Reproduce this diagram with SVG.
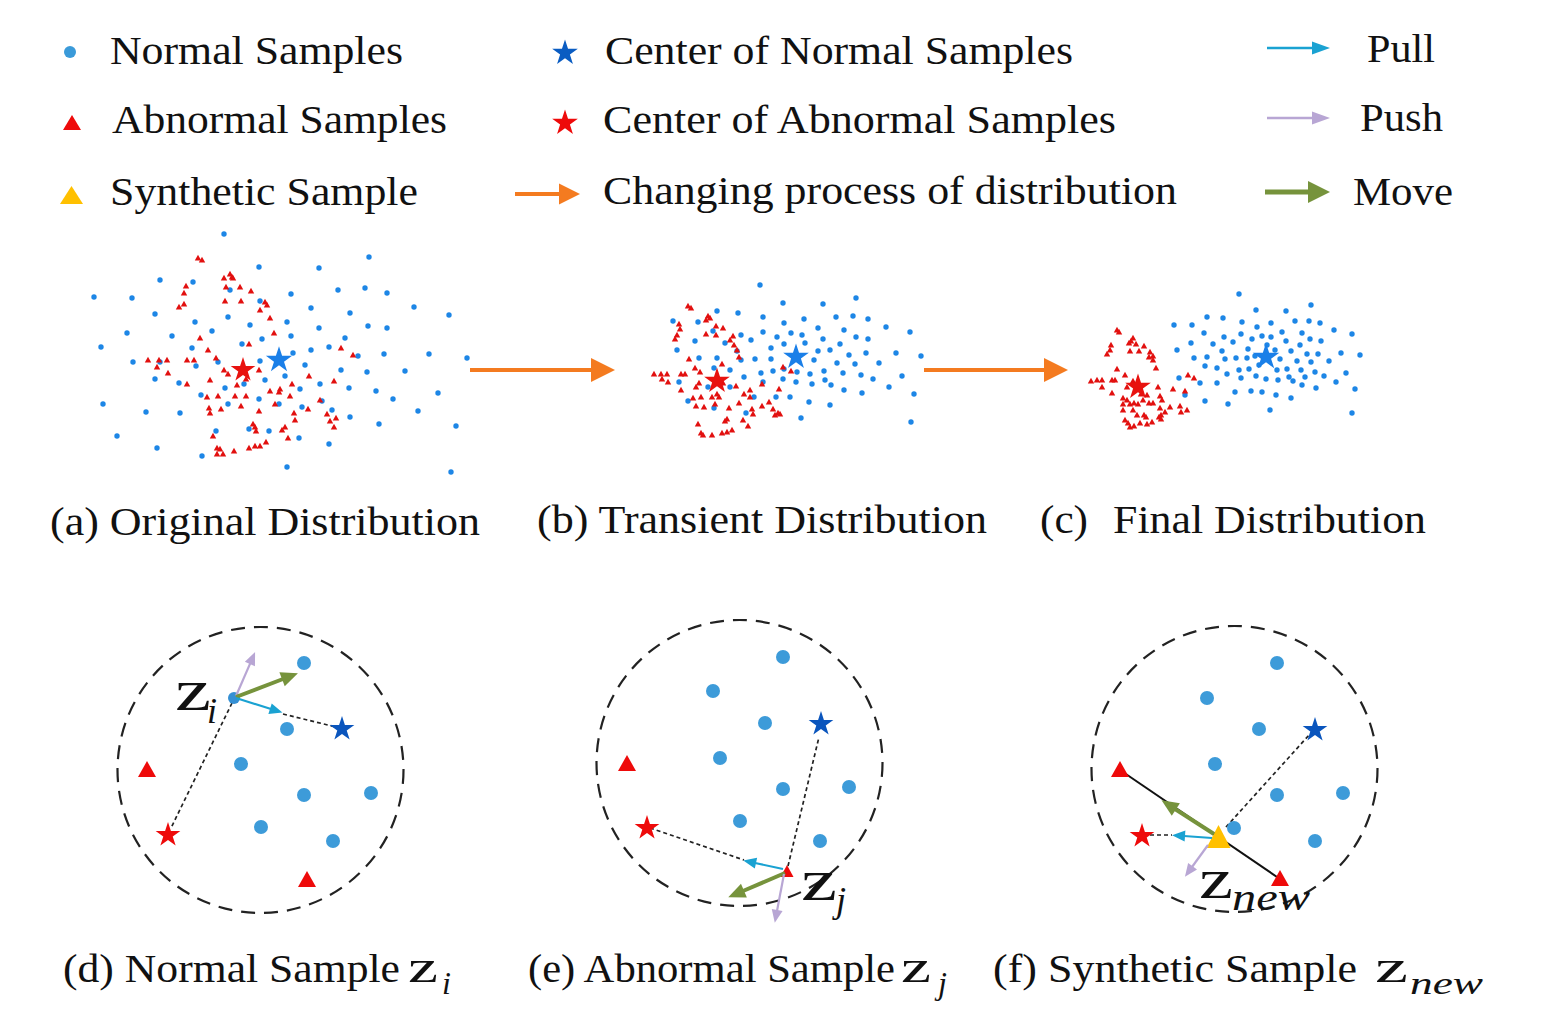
<svg xmlns="http://www.w3.org/2000/svg" xmlns:xlink="http://www.w3.org/1999/xlink" width="1548" height="1017" viewBox="0 0 1548 1017">
<style>
.t{font-family:"Liberation Serif","Times New Roman",serif;font-size:40px;fill:#111}
.z{font-family:"Liberation Serif","Times New Roman",serif;fill:#111}
.m{font-family:"Liberation Serif","Times New Roman",serif;font-style:italic;fill:#111}
.sb{fill:#1d86e6}
.cd{fill:#3d9bd9}
.dash{fill:none;stroke:#222;stroke-width:1.7;stroke-dasharray:4 3}
.ring{fill:none;stroke:#222;stroke-width:2.2;stroke-dasharray:14 9}
</style>
<defs>
<path id="star" d="M0,-10 L2.245,-3.09 L9.51,-3.09 L3.63,1.18 L5.88,8.09 L0,3.82 L-5.88,8.09 L-3.63,1.18 L-9.51,-3.09 L-2.245,-3.09 Z"/>
<path id="rt" d="M0,-3.2 L3.2,2.4 L-3.2,2.4 Z" fill="#e2100f"/>
<path id="bt" d="M0,-9 L9,7 L-9,7 Z" fill="#ee0a0a"/>
<marker id="aO" markerUnits="userSpaceOnUse" orient="auto" overflow="visible" refX="1" refY="0" markerWidth="30" markerHeight="30"><path d="M0,-12 L24,0 L0,12 Z" fill="#f47b20"/></marker>
<marker id="ao" markerUnits="userSpaceOnUse" orient="auto" overflow="visible" refX="1" refY="0" markerWidth="30" markerHeight="30"><path d="M0,-10.5 L21,0 L0,10.5 Z" fill="#f47b20"/></marker>
<marker id="aC" markerUnits="userSpaceOnUse" orient="auto" overflow="visible" refX="1" refY="0" markerWidth="30" markerHeight="30"><path d="M0,-6.5 L18,0 L0,6.5 Z" fill="#1aa2d2"/></marker>
<marker id="ac" markerUnits="userSpaceOnUse" orient="auto" overflow="visible" refX="1" refY="0" markerWidth="30" markerHeight="30"><path d="M0,-5.5 L13,0 L0,5.5 Z" fill="#1aa2d2"/></marker>
<marker id="aL" markerUnits="userSpaceOnUse" orient="auto" overflow="visible" refX="1" refY="0" markerWidth="30" markerHeight="30"><path d="M0,-6.5 L18,0 L0,6.5 Z" fill="#b8a6d4"/></marker>
<marker id="al" markerUnits="userSpaceOnUse" orient="auto" overflow="visible" refX="1" refY="0" markerWidth="30" markerHeight="30"><path d="M0,-5.5 L13,0 L0,5.5 Z" fill="#b8a6d4"/></marker>
<marker id="aG" markerUnits="userSpaceOnUse" orient="auto" overflow="visible" refX="1" refY="0" markerWidth="30" markerHeight="30"><path d="M0,-11 L22,0 L0,11 Z" fill="#76933c"/></marker>
<marker id="ag" markerUnits="userSpaceOnUse" orient="auto" overflow="visible" refX="1" refY="0" markerWidth="30" markerHeight="30"><path d="M0,-7.5 L17,0 L0,7.5 Z" fill="#76933c"/></marker>
</defs>
<rect width="1548" height="1017" fill="#fff"/>

<!-- Legend -->
<g id="legend-normal"><circle cx="70" cy="52" r="6" fill="#3a9ad9"/><text class="t" x="110" y="64" textLength="293" lengthAdjust="spacingAndGlyphs">Normal Samples</text></g>
<g id="legend-abnormal"><path d="M72,115 L81,130 L63,130 Z" fill="#ee0a0a"/><text class="t" x="112" y="133" textLength="335" lengthAdjust="spacingAndGlyphs">Abnormal Samples</text></g>
<g id="legend-synthetic"><path d="M71.5,186 L83,204 L60,204 Z" fill="#ffc000"/><text class="t" x="110" y="205" textLength="308" lengthAdjust="spacingAndGlyphs">Synthetic Sample</text></g>
<g id="legend-center-normal"><use href="#star" transform="translate(565,53) scale(1.35)" fill="#0a5cc2"/><text class="t" x="605" y="64" textLength="468" lengthAdjust="spacingAndGlyphs">Center of Normal Samples</text></g>
<g id="legend-center-abnormal"><use href="#star" transform="translate(565,123) scale(1.35)" fill="#ee0a0a"/><text class="t" x="603" y="133" textLength="513" lengthAdjust="spacingAndGlyphs">Center of Abnormal Samples</text></g>
<g id="legend-changing"><text class="t" x="603" y="204" textLength="574" lengthAdjust="spacingAndGlyphs">Changing process of distribution</text></g>
<g id="legend-pull"><text class="t" x="1367" y="62" textLength="68" lengthAdjust="spacingAndGlyphs">Pull</text></g>
<g id="legend-push"><text class="t" x="1360" y="131" textLength="83" lengthAdjust="spacingAndGlyphs">Push</text></g>
<g id="legend-move"><text class="t" x="1353" y="205" textLength="100" lengthAdjust="spacingAndGlyphs">Move</text></g>

<!-- Panel (a) -->
<g id="panel-a">
<g class="sb">
<circle cx="224" cy="234" r="2.7"/><circle cx="369" cy="257" r="2.7"/><circle cx="259" cy="267" r="2.7"/><circle cx="319" cy="268" r="2.7"/><circle cx="160" cy="280" r="2.7"/><circle cx="94" cy="297" r="2.7"/><circle cx="132" cy="298" r="2.7"/><circle cx="193" cy="282" r="2.7"/><circle cx="230" cy="290" r="2.7"/><circle cx="291" cy="294" r="2.7"/><circle cx="338" cy="290" r="2.7"/><circle cx="365" cy="288" r="2.7"/><circle cx="387" cy="293" r="2.7"/><circle cx="414" cy="307" r="2.7"/><circle cx="449" cy="315" r="2.7"/><circle cx="260" cy="301" r="2.7"/><circle cx="155" cy="314" r="2.7"/><circle cx="195" cy="322" r="2.7"/><circle cx="228" cy="317" r="2.7"/><circle cx="250" cy="325" r="2.7"/><circle cx="287" cy="322" r="2.7"/><circle cx="311" cy="308" r="2.7"/><circle cx="350" cy="313" r="2.7"/><circle cx="368" cy="326" r="2.7"/><circle cx="387" cy="328" r="2.7"/><circle cx="319" cy="328" r="2.7"/><circle cx="127" cy="333" r="2.7"/><circle cx="172" cy="336" r="2.7"/><circle cx="212" cy="331" r="2.7"/><circle cx="262" cy="339" r="2.7"/><circle cx="291" cy="336" r="2.7"/><circle cx="345" cy="338" r="2.7"/><circle cx="101" cy="347" r="2.7"/><circle cx="192" cy="348" r="2.7"/><circle cx="242" cy="344" r="2.7"/><circle cx="293" cy="353" r="2.7"/><circle cx="311" cy="350" r="2.7"/><circle cx="329" cy="347" r="2.7"/><circle cx="358" cy="356" r="2.7"/><circle cx="384" cy="354" r="2.7"/><circle cx="429" cy="354" r="2.7"/><circle cx="467" cy="358" r="2.7"/><circle cx="133" cy="362" r="2.7"/><circle cx="160" cy="362" r="2.7"/><circle cx="196" cy="366" r="2.7"/><circle cx="218" cy="362" r="2.7"/><circle cx="260" cy="361" r="2.7"/><circle cx="305" cy="365" r="2.7"/><circle cx="341" cy="370" r="2.7"/><circle cx="367" cy="372" r="2.7"/><circle cx="405" cy="371" r="2.7"/><circle cx="155" cy="379" r="2.7"/><circle cx="179" cy="383" r="2.7"/><circle cx="225" cy="388" r="2.7"/><circle cx="244" cy="384" r="2.7"/><circle cx="265" cy="380" r="2.7"/><circle cx="285" cy="376" r="2.7"/><circle cx="300" cy="389" r="2.7"/><circle cx="320" cy="384" r="2.7"/><circle cx="349" cy="388" r="2.7"/><circle cx="376" cy="391" r="2.7"/><circle cx="393" cy="399" r="2.7"/><circle cx="438" cy="393" r="2.7"/><circle cx="103" cy="404" r="2.7"/><circle cx="201" cy="395" r="2.7"/><circle cx="228" cy="404" r="2.7"/><circle cx="259" cy="399" r="2.7"/><circle cx="279" cy="404" r="2.7"/><circle cx="302" cy="407" r="2.7"/><circle cx="322" cy="401" r="2.7"/><circle cx="332" cy="410" r="2.7"/><circle cx="350" cy="417" r="2.7"/><circle cx="418" cy="411" r="2.7"/><circle cx="146" cy="412" r="2.7"/><circle cx="180" cy="413" r="2.7"/><circle cx="379" cy="424" r="2.7"/><circle cx="456" cy="426" r="2.7"/><circle cx="117" cy="436" r="2.7"/><circle cx="216" cy="431" r="2.7"/><circle cx="249" cy="429" r="2.7"/><circle cx="269" cy="431" r="2.7"/><circle cx="299" cy="438" r="2.7"/><circle cx="329" cy="444" r="2.7"/><circle cx="157" cy="448" r="2.7"/><circle cx="202" cy="456" r="2.7"/><circle cx="287" cy="467" r="2.7"/><circle cx="451" cy="472" r="2.7"/>
</g>
<g>
<use href="#rt" x="198" y="258"/><use href="#rt" x="202" y="260"/><use href="#rt" x="230" y="274"/><use href="#rt" x="232" y="277"/><use href="#rt" x="233" y="278"/><use href="#rt" x="224" y="278"/><use href="#rt" x="186" y="286"/><use href="#rt" x="184" y="293"/><use href="#rt" x="240" y="287"/><use href="#rt" x="226" y="287"/><use href="#rt" x="251" y="291"/><use href="#rt" x="179" y="307"/><use href="#rt" x="184" y="304"/><use href="#rt" x="225" y="301"/><use href="#rt" x="241" y="301"/><use href="#rt" x="265" y="302"/><use href="#rt" x="267" y="305"/><use href="#rt" x="260" y="310"/><use href="#rt" x="270" y="318"/><use href="#rt" x="274" y="333"/><use href="#rt" x="200" y="338"/><use href="#rt" x="208" y="350"/><use href="#rt" x="216" y="358"/><use href="#rt" x="249" y="344"/><use href="#rt" x="148" y="360"/><use href="#rt" x="159" y="360"/><use href="#rt" x="167" y="360"/><use href="#rt" x="187" y="360"/><use href="#rt" x="194" y="360"/><use href="#rt" x="157" y="367"/><use href="#rt" x="168" y="373"/><use href="#rt" x="224" y="370"/><use href="#rt" x="228" y="374"/><use href="#rt" x="259" y="370"/><use href="#rt" x="210" y="380"/><use href="#rt" x="187" y="384"/><use href="#rt" x="237" y="385"/><use href="#rt" x="246" y="379"/><use href="#rt" x="270" y="391"/><use href="#rt" x="280" y="389"/><use href="#rt" x="292" y="384"/><use href="#rt" x="279" y="392"/><use href="#rt" x="309" y="376"/><use href="#rt" x="334" y="381"/><use href="#rt" x="341" y="348"/><use href="#rt" x="353" y="355"/><use href="#rt" x="207" y="397"/><use href="#rt" x="218" y="396"/><use href="#rt" x="235" y="396"/><use href="#rt" x="246" y="396"/><use href="#rt" x="290" y="396"/><use href="#rt" x="320" y="400"/><use href="#rt" x="209" y="408"/><use href="#rt" x="221" y="409"/><use href="#rt" x="241" y="406"/><use href="#rt" x="259" y="411"/><use href="#rt" x="275" y="404"/><use href="#rt" x="210" y="413"/><use href="#rt" x="294" y="413"/><use href="#rt" x="295" y="420"/><use href="#rt" x="308" y="409"/><use href="#rt" x="327" y="414"/><use href="#rt" x="336" y="418"/><use href="#rt" x="330" y="421"/><use href="#rt" x="334" y="427"/><use href="#rt" x="253" y="424"/><use href="#rt" x="255" y="427"/><use href="#rt" x="256" y="431"/><use href="#rt" x="282" y="430"/><use href="#rt" x="285" y="427"/><use href="#rt" x="288" y="438"/><use href="#rt" x="213" y="436"/><use href="#rt" x="217" y="448"/><use href="#rt" x="220" y="449"/><use href="#rt" x="217" y="454"/><use href="#rt" x="223" y="454"/><use href="#rt" x="234" y="451"/><use href="#rt" x="249" y="448"/><use href="#rt" x="255" y="446"/><use href="#rt" x="260" y="446"/><use href="#rt" x="266" y="442"/>
</g>
<use href="#star" transform="translate(243,370) scale(1.3)" fill="#e8120f"/>
<use href="#star" transform="translate(279,360) scale(1.38)" fill="#1a7fe8"/>
<text class="t" x="50" y="535" textLength="430" lengthAdjust="spacingAndGlyphs">(a) Original Distribution</text>
</g>

<!-- Panel (b) -->
<g id="panel-b">
<g class="sb">
<circle cx="760" cy="285" r="2.7"/><circle cx="783" cy="303" r="2.7"/><circle cx="823" cy="304" r="2.7"/><circle cx="856" cy="298" r="2.7"/><circle cx="673" cy="321" r="2.7"/><circle cx="698" cy="322" r="2.7"/><circle cx="717" cy="311" r="2.7"/><circle cx="738" cy="313" r="2.7"/><circle cx="763" cy="317" r="2.7"/><circle cx="784" cy="323" r="2.7"/><circle cx="804" cy="319" r="2.7"/><circle cx="836" cy="317" r="2.7"/><circle cx="853" cy="316" r="2.7"/><circle cx="868" cy="319" r="2.7"/><circle cx="886" cy="327" r="2.7"/><circle cx="910" cy="332" r="2.7"/><circle cx="844" cy="330" r="2.7"/><circle cx="818" cy="328" r="2.7"/><circle cx="791" cy="333" r="2.7"/><circle cx="802" cy="335" r="2.7"/><circle cx="777" cy="337" r="2.7"/><circle cx="763" cy="332" r="2.7"/><circle cx="751" cy="340" r="2.7"/><circle cx="741" cy="335" r="2.7"/><circle cx="713" cy="331" r="2.7"/><circle cx="695" cy="341" r="2.7"/><circle cx="725" cy="343" r="2.7"/><circle cx="677" cy="350" r="2.7"/><circle cx="737" cy="351" r="2.7"/><circle cx="771" cy="348" r="2.7"/><circle cx="784" cy="344" r="2.7"/><circle cx="805" cy="343" r="2.7"/><circle cx="823" cy="339" r="2.7"/><circle cx="840" cy="344" r="2.7"/><circle cx="856" cy="337" r="2.7"/><circle cx="868" cy="339" r="2.7"/><circle cx="830" cy="350" r="2.7"/><circle cx="818" cy="351" r="2.7"/><circle cx="849" cy="355" r="2.7"/><circle cx="866" cy="353" r="2.7"/><circle cx="896" cy="353" r="2.7"/><circle cx="921" cy="356" r="2.7"/><circle cx="699" cy="358" r="2.7"/><circle cx="717" cy="358" r="2.7"/><circle cx="741" cy="360" r="2.7"/><circle cx="755" cy="359" r="2.7"/><circle cx="771" cy="359" r="2.7"/><circle cx="814" cy="360" r="2.7"/><circle cx="837" cy="363" r="2.7"/><circle cx="855" cy="364" r="2.7"/><circle cx="879" cy="363" r="2.7"/><circle cx="714" cy="368" r="2.7"/><circle cx="730" cy="370" r="2.7"/><circle cx="761" cy="373" r="2.7"/><circle cx="773" cy="371" r="2.7"/><circle cx="784" cy="369" r="2.7"/><circle cx="797" cy="372" r="2.7"/><circle cx="810" cy="374" r="2.7"/><circle cx="824" cy="371" r="2.7"/><circle cx="843" cy="373" r="2.7"/><circle cx="861" cy="375" r="2.7"/><circle cx="873" cy="379" r="2.7"/><circle cx="902" cy="376" r="2.7"/><circle cx="679" cy="382" r="2.7"/><circle cx="744" cy="377" r="2.7"/><circle cx="763" cy="382" r="2.7"/><circle cx="783" cy="379" r="2.7"/><circle cx="796" cy="382" r="2.7"/><circle cx="812" cy="384" r="2.7"/><circle cx="825" cy="380" r="2.7"/><circle cx="831" cy="385" r="2.7"/><circle cx="844" cy="390" r="2.7"/><circle cx="862" cy="393" r="2.7"/><circle cx="889" cy="387" r="2.7"/><circle cx="914" cy="394" r="2.7"/><circle cx="708" cy="387" r="2.7"/><circle cx="730" cy="387" r="2.7"/><circle cx="754" cy="397" r="2.7"/><circle cx="776" cy="397" r="2.7"/><circle cx="790" cy="397" r="2.7"/><circle cx="809" cy="402" r="2.7"/><circle cx="830" cy="405" r="2.7"/><circle cx="688" cy="401" r="2.7"/><circle cx="714" cy="408" r="2.7"/><circle cx="746" cy="413" r="2.7"/><circle cx="801" cy="418" r="2.7"/><circle cx="911" cy="422" r="2.7"/>
</g>
<g>
<use href="#rt" x="688" y="306"/><use href="#rt" x="691" y="308"/><use href="#rt" x="708" y="316"/><use href="#rt" x="710" y="318"/><use href="#rt" x="706" y="320"/><use href="#rt" x="679" y="324"/><use href="#rt" x="680" y="329"/><use href="#rt" x="716" y="326"/><use href="#rt" x="723" y="328"/><use href="#rt" x="706" y="334"/><use href="#rt" x="716" y="335"/><use href="#rt" x="677" y="335"/><use href="#rt" x="675" y="339"/><use href="#rt" x="733" y="336"/><use href="#rt" x="730" y="340"/><use href="#rt" x="734" y="345"/><use href="#rt" x="737" y="350"/><use href="#rt" x="739" y="357"/><use href="#rt" x="689" y="359"/><use href="#rt" x="695" y="368"/><use href="#rt" x="700" y="372"/><use href="#rt" x="722" y="364"/><use href="#rt" x="654" y="374"/><use href="#rt" x="661" y="374"/><use href="#rt" x="667" y="374"/><use href="#rt" x="662" y="379"/><use href="#rt" x="668" y="382"/><use href="#rt" x="681" y="374"/><use href="#rt" x="685" y="374"/><use href="#rt" x="699" y="383"/><use href="#rt" x="696" y="387"/><use href="#rt" x="681" y="390"/><use href="#rt" x="723" y="383"/><use href="#rt" x="736" y="386"/><use href="#rt" x="717" y="394"/><use href="#rt" x="744" y="394"/><use href="#rt" x="750" y="390"/><use href="#rt" x="750" y="397"/><use href="#rt" x="693" y="398"/><use href="#rt" x="701" y="397"/><use href="#rt" x="712" y="397"/><use href="#rt" x="719" y="397"/><use href="#rt" x="739" y="403"/><use href="#rt" x="696" y="406"/><use href="#rt" x="704" y="407"/><use href="#rt" x="715" y="404"/><use href="#rt" x="752" y="409"/><use href="#rt" x="753" y="414"/><use href="#rt" x="762" y="406"/><use href="#rt" x="769" y="402"/><use href="#rt" x="773" y="409"/><use href="#rt" x="775" y="415"/><use href="#rt" x="780" y="414"/><use href="#rt" x="729" y="408"/><use href="#rt" x="727" y="419"/><use href="#rt" x="725" y="421"/><use href="#rt" x="743" y="420"/><use href="#rt" x="748" y="426"/><use href="#rt" x="698" y="424"/><use href="#rt" x="701" y="433"/><use href="#rt" x="703" y="435"/><use href="#rt" x="712" y="435"/><use href="#rt" x="722" y="433"/><use href="#rt" x="727" y="432"/><use href="#rt" x="732" y="430"/><use href="#rt" x="783" y="367"/><use href="#rt" x="791" y="371"/><use href="#rt" x="779" y="389"/><use href="#rt" x="762" y="384"/><use href="#rt" x="778" y="413"/>
</g>
<use href="#star" transform="translate(717,381) scale(1.35)" fill="#e8120f"/>
<use href="#star" transform="translate(796,357) scale(1.35)" fill="#1a7fe8"/>
<text class="t" x="537" y="533" textLength="450" lengthAdjust="spacingAndGlyphs">(b) Transient Distribution</text>
</g>

<!-- Panel (c) -->
<g id="panel-c">
<g class="sb">
<circle cx="1239" cy="294" r="2.7"/><circle cx="1311" cy="305" r="2.7"/><circle cx="1256" cy="310" r="2.7"/><circle cx="1286" cy="311" r="2.7"/><circle cx="1207" cy="317" r="2.7"/><circle cx="1223" cy="318" r="2.7"/><circle cx="1242" cy="322" r="2.7"/><circle cx="1271" cy="323" r="2.7"/><circle cx="1295" cy="321" r="2.7"/><circle cx="1309" cy="321" r="2.7"/><circle cx="1320" cy="323" r="2.7"/><circle cx="1174" cy="325" r="2.7"/><circle cx="1192" cy="325" r="2.7"/><circle cx="1257" cy="327" r="2.7"/><circle cx="1204" cy="333" r="2.7"/><circle cx="1224" cy="337" r="2.7"/><circle cx="1241" cy="334" r="2.7"/><circle cx="1252" cy="339" r="2.7"/><circle cx="1262" cy="336" r="2.7"/><circle cx="1271" cy="337" r="2.7"/><circle cx="1282" cy="332" r="2.7"/><circle cx="1302" cy="333" r="2.7"/><circle cx="1310" cy="339" r="2.7"/><circle cx="1286" cy="341" r="2.7"/><circle cx="1321" cy="341" r="2.7"/><circle cx="1334" cy="330" r="2.7"/><circle cx="1352" cy="334" r="2.7"/><circle cx="1191" cy="343" r="2.7"/><circle cx="1213" cy="344" r="2.7"/><circle cx="1233" cy="342" r="2.7"/><circle cx="1267" cy="345" r="2.7"/><circle cx="1300" cy="345" r="2.7"/><circle cx="1275" cy="350" r="2.7"/><circle cx="1177" cy="350" r="2.7"/><circle cx="1222" cy="351" r="2.7"/><circle cx="1248" cy="349" r="2.7"/><circle cx="1255" cy="356" r="2.7"/><circle cx="1291" cy="351" r="2.7"/><circle cx="1307" cy="354" r="2.7"/><circle cx="1318" cy="354" r="2.7"/><circle cx="1341" cy="353" r="2.7"/><circle cx="1360" cy="355" r="2.7"/><circle cx="1194" cy="358" r="2.7"/><circle cx="1207" cy="357" r="2.7"/><circle cx="1225" cy="359" r="2.7"/><circle cx="1236" cy="358" r="2.7"/><circle cx="1247" cy="358" r="2.7"/><circle cx="1280" cy="359" r="2.7"/><circle cx="1297" cy="361" r="2.7"/><circle cx="1311" cy="362" r="2.7"/><circle cx="1329" cy="361" r="2.7"/><circle cx="1205" cy="366" r="2.7"/><circle cx="1217" cy="368" r="2.7"/><circle cx="1239" cy="370" r="2.7"/><circle cx="1249" cy="369" r="2.7"/><circle cx="1259" cy="365" r="2.7"/><circle cx="1277" cy="370" r="2.7"/><circle cx="1287" cy="369" r="2.7"/><circle cx="1301" cy="370" r="2.7"/><circle cx="1315" cy="372" r="2.7"/><circle cx="1346" cy="373" r="2.7"/><circle cx="1227" cy="374" r="2.7"/><circle cx="1241" cy="378" r="2.7"/><circle cx="1256" cy="376" r="2.7"/><circle cx="1266" cy="379" r="2.7"/><circle cx="1278" cy="380" r="2.7"/><circle cx="1289" cy="377" r="2.7"/><circle cx="1293" cy="381" r="2.7"/><circle cx="1305" cy="377" r="2.7"/><circle cx="1324" cy="376" r="2.7"/><circle cx="1179" cy="378" r="2.7"/><circle cx="1200" cy="383" r="2.7"/><circle cx="1217" cy="383" r="2.7"/><circle cx="1302" cy="385" r="2.7"/><circle cx="1316" cy="388" r="2.7"/><circle cx="1336" cy="382" r="2.7"/><circle cx="1355" cy="389" r="2.7"/><circle cx="1185" cy="395" r="2.7"/><circle cx="1235" cy="392" r="2.7"/><circle cx="1251" cy="391" r="2.7"/><circle cx="1262" cy="392" r="2.7"/><circle cx="1276" cy="395" r="2.7"/><circle cx="1291" cy="398" r="2.7"/><circle cx="1205" cy="401" r="2.7"/><circle cx="1228" cy="404" r="2.7"/><circle cx="1270" cy="410" r="2.7"/><circle cx="1352" cy="413" r="2.7"/>
</g>
<g>
<use href="#rt" x="1117" y="330"/><use href="#rt" x="1119" y="332"/><use href="#rt" x="1133" y="338"/><use href="#rt" x="1131" y="341"/><use href="#rt" x="1129" y="343"/><use href="#rt" x="1136" y="344"/><use href="#rt" x="1144" y="346"/><use href="#rt" x="1111" y="345"/><use href="#rt" x="1110" y="350"/><use href="#rt" x="1107" y="354"/><use href="#rt" x="1130" y="351"/><use href="#rt" x="1139" y="351"/><use href="#rt" x="1150" y="352"/><use href="#rt" x="1153" y="356"/><use href="#rt" x="1149" y="357"/><use href="#rt" x="1156" y="368"/><use href="#rt" x="1153" y="360"/><use href="#rt" x="1117" y="369"/><use href="#rt" x="1125" y="375"/><use href="#rt" x="1091" y="381"/><use href="#rt" x="1097" y="380"/><use href="#rt" x="1102" y="380"/><use href="#rt" x="1102" y="387"/><use href="#rt" x="1112" y="380"/><use href="#rt" x="1115" y="380"/><use href="#rt" x="1112" y="393"/><use href="#rt" x="1133" y="381"/><use href="#rt" x="1127" y="387"/><use href="#rt" x="1141" y="394"/><use href="#rt" x="1147" y="395"/><use href="#rt" x="1158" y="387"/><use href="#rt" x="1160" y="396"/><use href="#rt" x="1149" y="403"/><use href="#rt" x="1123" y="398"/><use href="#rt" x="1123" y="404"/><use href="#rt" x="1127" y="400"/><use href="#rt" x="1130" y="404"/><use href="#rt" x="1134" y="403"/><use href="#rt" x="1138" y="404"/><use href="#rt" x="1143" y="400"/><use href="#rt" x="1162" y="400"/><use href="#rt" x="1153" y="403"/><use href="#rt" x="1160" y="408"/><use href="#rt" x="1173" y="389"/><use href="#rt" x="1180" y="406"/><use href="#rt" x="1185" y="391"/><use href="#rt" x="1187" y="410"/><use href="#rt" x="1181" y="412"/><use href="#rt" x="1188" y="375"/><use href="#rt" x="1194" y="378"/><use href="#rt" x="1123" y="410"/><use href="#rt" x="1133" y="410"/><use href="#rt" x="1137" y="415"/><use href="#rt" x="1144" y="415"/><use href="#rt" x="1146" y="417"/><use href="#rt" x="1159" y="417"/><use href="#rt" x="1161" y="415"/><use href="#rt" x="1170" y="407"/><use href="#rt" x="1125" y="420"/><use href="#rt" x="1128" y="423"/><use href="#rt" x="1130" y="427"/><use href="#rt" x="1134" y="426"/><use href="#rt" x="1140" y="423"/><use href="#rt" x="1147" y="424"/><use href="#rt" x="1152" y="422"/><use href="#rt" x="1161" y="419"/><use href="#rt" x="1165" y="412"/>
</g>
<use href="#star" transform="translate(1138,387) scale(1.35)" fill="#e8120f"/>
<use href="#star" transform="translate(1266,357) scale(1.4)" fill="#1a7fe8"/>
<text class="t" x="1040" y="533" textLength="48" lengthAdjust="spacingAndGlyphs">(c)</text>
<text class="t" x="1113" y="533" textLength="313" lengthAdjust="spacingAndGlyphs">Final Distribution</text>
</g>

<!-- Panel (d) -->
<g id="panel-d">
<circle class="ring" cx="260.5" cy="770" r="143"/>
<line class="dash" x1="283" y1="714" x2="336" y2="727"/>
<line class="dash" x1="232" y1="703" x2="171" y2="828"/>
<g class="cd"><circle cx="304" cy="663" r="7"/><circle cx="287" cy="729" r="7"/><circle cx="241" cy="764" r="7"/><circle cx="304" cy="795" r="7"/><circle cx="371" cy="793" r="7"/><circle cx="261" cy="827" r="7"/><circle cx="333" cy="841" r="7"/></g>
<circle cx="234" cy="698" r="6" fill="#3590d4"/>
<use href="#star" transform="translate(342,729) scale(1.3)" fill="#0a55bd"/>
<use href="#star" transform="translate(168,835) scale(1.3)" fill="#ee0a0a"/>
<use href="#bt" x="147" y="770"/>
<use href="#bt" x="307" y="880"/>
<text class="z" x="175" y="710" font-size="60" textLength="36" lengthAdjust="spacingAndGlyphs">z</text>
<text class="m" x="207" y="723" font-size="36">i</text>
<text class="t" x="63" y="982" textLength="337" lengthAdjust="spacingAndGlyphs">(d) Normal Sample</text>
<text class="z" x="408" y="982" font-size="46" textLength="30" lengthAdjust="spacingAndGlyphs">z</text>
<text class="m" x="442" y="994" font-size="32">i</text>
</g>

<!-- Panel (e) -->
<g id="panel-e">
<circle class="ring" cx="739.5" cy="763" r="143"/>
<line class="dash" x1="650" y1="828" x2="744" y2="860"/>
<line class="dash" x1="788" y1="866" x2="819" y2="737"/>
<g class="cd"><circle cx="783" cy="657" r="7"/><circle cx="713" cy="691" r="7"/><circle cx="765" cy="723" r="7"/><circle cx="720" cy="758" r="7"/><circle cx="783" cy="789" r="7"/><circle cx="849" cy="787" r="7"/><circle cx="740" cy="821" r="7"/><circle cx="820" cy="841" r="7"/></g>
<use href="#star" transform="translate(821,724) scale(1.3)" fill="#0a55bd"/>
<use href="#star" transform="translate(647,828) scale(1.3)" fill="#ee0a0a"/>
<use href="#bt" x="627" y="764"/>
<path d="M787,865 L793.5,877 L780.5,877 Z" fill="#ee0a0a"/>
<text class="z" x="801" y="900" font-size="60" textLength="36" lengthAdjust="spacingAndGlyphs">z</text>
<text class="m" x="836" y="912" font-size="36">j</text>
<text class="t" x="528" y="982" textLength="367" lengthAdjust="spacingAndGlyphs">(e) Abnormal Sample</text>
<text class="z" x="901" y="982" font-size="46" textLength="30" lengthAdjust="spacingAndGlyphs">z</text>
<text class="m" x="938" y="994" font-size="32">j</text>
</g>

<!-- Panel (f) -->
<g id="panel-f">
<circle class="ring" cx="1234.5" cy="769" r="143"/>
<line x1="1120" y1="770" x2="1280" y2="879" stroke="#111" stroke-width="2"/>
<line class="dash" x1="1226" y1="827" x2="1310" y2="734"/>
<line class="dash" x1="1150" y1="835" x2="1172" y2="835"/>
<g class="cd"><circle cx="1277" cy="663" r="7"/><circle cx="1207" cy="698" r="7"/><circle cx="1259" cy="729" r="7"/><circle cx="1215" cy="764" r="7"/><circle cx="1277" cy="795" r="7"/><circle cx="1343" cy="793" r="7"/><circle cx="1234" cy="828" r="7"/><circle cx="1315" cy="841" r="7"/></g>
<use href="#star" transform="translate(1315,730) scale(1.3)" fill="#0a55bd"/>
<use href="#star" transform="translate(1142,836) scale(1.3)" fill="#ee0a0a"/>
<use href="#bt" x="1120" y="770"/>
<use href="#bt" x="1280" y="879"/>
<path d="M1218.5,825 L1230.5,848 L1206.5,848 Z" fill="#ffc000"/>
<text class="z" x="1199" y="898" font-size="58" textLength="34" lengthAdjust="spacingAndGlyphs">z</text>
<text class="m" x="1232" y="910" font-size="38" textLength="78" lengthAdjust="spacingAndGlyphs">new</text>
<text class="t" x="993" y="982" textLength="364" lengthAdjust="spacingAndGlyphs">(f) Synthetic Sample</text>
<text class="z" x="1375" y="982" font-size="46" textLength="33" lengthAdjust="spacingAndGlyphs">z</text>
<text class="m" x="1410" y="994" font-size="32" textLength="73" lengthAdjust="spacingAndGlyphs">new</text>
</g>

<!-- Connectors / arrows -->
<g id="connectors" fill="none">
<line x1="515" y1="194" x2="560" y2="194" stroke="#f47b20" stroke-width="4" marker-end="url(#ao)"/>
<line x1="1267" y1="48" x2="1313" y2="48" stroke="#1aa2d2" stroke-width="2.5" marker-end="url(#aC)"/>
<line x1="1267" y1="118" x2="1313" y2="118" stroke="#b8a6d4" stroke-width="2.5" marker-end="url(#aL)"/>
<line x1="1265" y1="192" x2="1309" y2="192" stroke="#76933c" stroke-width="5" marker-end="url(#aG)"/>
<line x1="470" y1="370" x2="592" y2="370" stroke="#f47b20" stroke-width="4" marker-end="url(#aO)"/>
<line x1="924" y1="370" x2="1045" y2="370" stroke="#f47b20" stroke-width="4" marker-end="url(#aO)"/>
<line x1="236" y1="696" x2="250.3" y2="663.1" stroke="#b8a6d4" stroke-width="2.2" marker-end="url(#al)"/>
<line x1="236" y1="697" x2="283" y2="679" stroke="#76933c" stroke-width="4" marker-end="url(#ag)"/>
<line x1="236" y1="698" x2="271" y2="709" stroke="#1aa2d2" stroke-width="2.2" marker-end="url(#ac)"/>
<line x1="783" y1="869" x2="755" y2="863" stroke="#1aa2d2" stroke-width="2.2" marker-end="url(#ac)"/>
<line x1="785" y1="873" x2="743" y2="891" stroke="#76933c" stroke-width="4" marker-end="url(#ag)"/>
<line x1="784" y1="874" x2="777" y2="911" stroke="#b8a6d4" stroke-width="2.2" marker-end="url(#al)"/>
<line x1="1212" y1="838" x2="1184" y2="836" stroke="#1aa2d2" stroke-width="2.2" marker-end="url(#ac)"/>
<line x1="1214" y1="834" x2="1175" y2="809" stroke="#76933c" stroke-width="4" marker-end="url(#ag)"/>
<line x1="1208" y1="845" x2="1192" y2="867" stroke="#b8a6d4" stroke-width="2.2" marker-end="url(#al)"/>
</g>
</svg>
